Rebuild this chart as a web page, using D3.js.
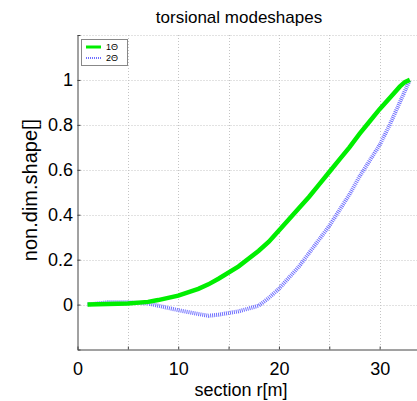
<!DOCTYPE html>
<html>
<head>
<meta charset="utf-8">
<script src="https://cdn.jsdelivr.net/npm/d3@7"></script>
<style>
  body { margin: 0; background: #fff; }
  text { font-family: "Liberation Sans", Arial, sans-serif; fill: #000; }
</style>
</head>
<body>
<script>
// section positions r[m]
const r = [1, 3, 5, 7, 8, 10, 12, 13, 14, 16, 18, 19, 20, 21, 22, 23, 24, 25, 26, 27, 28, 29, 30, 31, 32, 32.5, 33];
// 1st torsional mode
const mode1 = [0, 0.002, 0.005, 0.012, 0.02, 0.04, 0.07, 0.09, 0.115, 0.17, 0.24, 0.28, 0.33, 0.38, 0.43, 0.48, 0.535, 0.59, 0.645, 0.70, 0.76, 0.815, 0.87, 0.92, 0.97, 0.99, 1.0];
// 2nd torsional mode
const mode2 = [0, 0.01, 0.01, 0.005, -0.005, -0.025, -0.042, -0.05, -0.045, -0.03, -0.005, 0.03, 0.07, 0.12, 0.17, 0.23, 0.29, 0.35, 0.42, 0.49, 0.57, 0.64, 0.71, 0.8, 0.9, 0.95, 1.0];
const xTicks = [0, 5, 10, 15, 20, 25, 30, 35];
const xLabels = [0, 10, 20, 30];
const yTicks = [-0.2, 0, 0.2, 0.4, 0.6, 0.8, 1, 1.2];
const yLabels = [0, 0.2, 0.4, 0.6, 0.8, 1];
const legendNames = ['1\u0398', '2\u0398'];

const svg = d3.select('body')
  .append('svg')
  .attr('width', 417)
  .attr('height', 401)

const margin = { left: 77.5, top: 35, bottom: 349.5 }

const xScale = d3.scaleLinear().domain([0, 35]).range([margin.left, 430]);
const yScale = d3.scaleLinear().domain([-0.2, 1.2]).range([margin.bottom, margin.top]);

// grid
svg.append('g')
  .selectAll('line')
  .data(xTicks.slice(1))
  .enter()
  .append('line')
  .attr('x1', d => Math.round(xScale(d)) + 0.5)
  .attr('x2', d => Math.round(xScale(d)) + 0.5)
  .attr('y1', margin.top)
  .attr('y2', margin.bottom)
  .attr('stroke', '#c4c4c4')
  .attr('stroke-dasharray', '1,2');

svg.append('g')
  .selectAll('line')
  .data(yTicks.slice(1))
  .enter()
  .append('line')
  .attr('x1', margin.left)
  .attr('x2', 417)
  .attr('y1', d => Math.round(yScale(d)) + 0.5)
  .attr('y2', d => Math.round(yScale(d)) + 0.5)
  .attr('stroke', '#c4c4c4')
  .attr('stroke-dasharray', '1,2');

// X-Axis
const xAxis = svg.append('g')
  .attr('transform', 'translate(0,' + margin.bottom + ')')
  .call(d3.axisBottom(xScale).tickValues(xTicks).tickSizeInner(-3).tickSizeOuter(0)
    .tickFormat(d => xLabels.includes(d) ? d : ''));
xAxis.selectAll('text').attr('dy', null).attr('y', 25).style('font-size', '18px');
xAxis.selectAll('line, path').attr('stroke', '#444');

// Y-Axis
const yAxis = svg.append('g')
  .attr('transform', 'translate(' + margin.left + ',0)')
  .call(d3.axisLeft(yScale).tickValues(yTicks).tickSizeInner(-3).tickSizeOuter(0)
    .tickFormat(d => yLabels.includes(d) ? d : ''));
yAxis.selectAll('text').attr('x', -4.5).style('font-size', '18px');
yAxis.selectAll('line, path').attr('stroke', '#444');

// curves
const line = d3.line()
  .x(function (d) { return xScale(d[0]) })
  .y(function (d) { return yScale(d[1]) });

svg.append('path')
  .datum(r.map((v, i) => [v, mode2[i]]))
  .attr('d', line)
  .attr('fill', 'none')
  .attr('stroke', '#7070ff')
  .attr('stroke-width', 4)
  .attr('stroke-dasharray', '1,1');

svg.append('path')
  .datum(r.map((v, i) => [v, mode1[i]]))
  .attr('d', line)
  .attr('fill', 'none')
  .attr('stroke', '#00ee00')
  .attr('stroke-width', 4.5);

// Legend
svg.append('rect')
  .attr('x', 81.5).attr('y', 39.5)
  .attr('width', 46).attr('height', 26)
  .attr('fill', '#fff')
  .attr('stroke', '#888');

const legendStyle = [
  { color: '#00ee00', dash: null },
  { color: '#7070ff', dash: '1,1' }
];

svg.selectAll('legendLines')
  .data(legendNames)
  .enter()
  .append('line')
  .attr('x1', 86).attr('x2', 101)
  .attr('y1', (d, i) => 47 + i * 11)
  .attr('y2', (d, i) => 47 + i * 11)
  .attr('stroke', (d, i) => legendStyle[i].color)
  .attr('stroke-width', (d, i) => i === 0 ? 3 : 2)
  .attr('stroke-dasharray', (d, i) => legendStyle[i].dash);

svg.selectAll('legendLabels')
  .data(legendNames)
  .enter()
  .append('text')
  .attr('x', 106)
  .attr('y', (d, i) => 50 + i * 11)
  .style('font-size', '9px')
  .text(d => d);

// title & labels
svg.append('text')
  .attr('x', 239).attr('y', 23)
  .attr('text-anchor', 'middle')
  .style('font-size', '17px')
  .text('torsional modeshapes');

svg.append('text')
  .attr('x', 241).attr('y', 396)
  .attr('text-anchor', 'middle')
  .style('font-size', '18px')
  .text('section r[m]');

svg.append('text')
  .attr('transform', 'translate(37,190) rotate(-90)')
  .attr('text-anchor', 'middle')
  .style('font-size', '20px')
  .text('non.dim.shape[]');
</script>
</body>
</html>
